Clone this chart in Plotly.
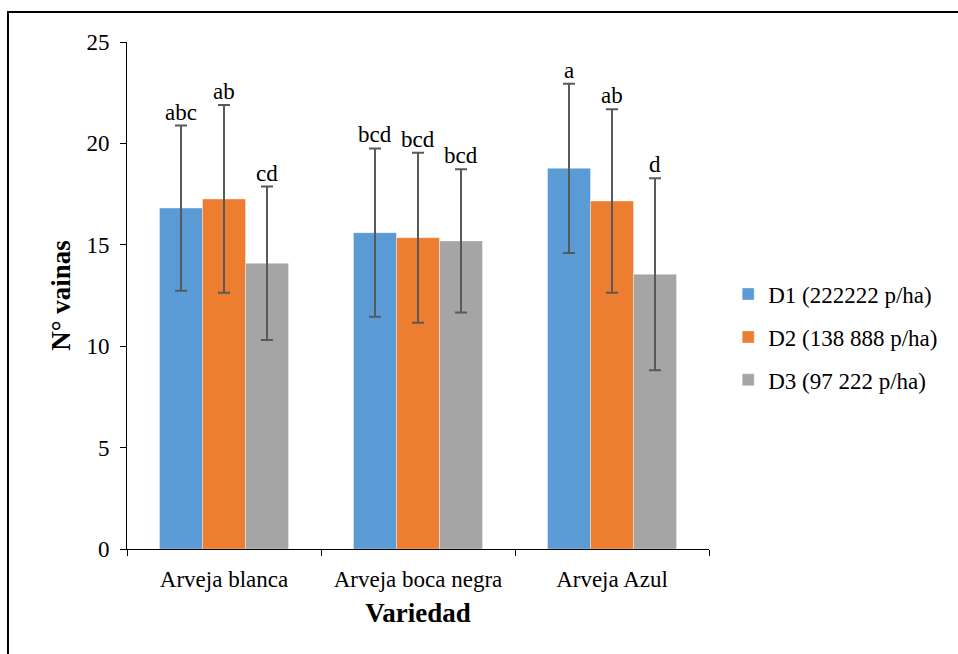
import plotly.graph_objects as go

categories = ["Arveja blanca", "Arveja boca negra", "Arveja Azul"]
series_names = ["D1 (222222 p/ha)", "D2 (138 888 p/ha)", "D3 (97 222 p/ha)"]
d1 = [16.81, 15.60, 18.77]
d2 = [17.26, 15.35, 17.16]
d3 = [14.09, 15.19, 13.55]
d1_err = [4.07, 4.15, 4.17]
d2_err = [4.63, 4.19, 4.52]
d3_err = [3.78, 3.53, 4.73]
d1_lab = ["abc", "bcd", "a"]
d2_lab = ["ab", "bcd", "ab"]
d3_lab = ["cd", "bcd", "d"]
y_ticks = [0, 5, 10, 15, 20, 25]

colors = ["#5B9BD5", "#ED7D31", "#A5A5A5"]
FONT = "'Times New Roman', 'Liberation Serif', serif"

fig = go.Figure()
series = [(d1, d1_err, d1_lab), (d2, d2_err, d2_lab), (d3, d3_err, d3_lab)]
bargap = 0.335
bw = (1 - bargap) / 3
for i, ((vals, errs, labs), name, col) in enumerate(zip(series, series_names, colors)):
    fig.add_trace(go.Bar(
        x=categories, y=vals, name=name, marker_color=col,
        marker_line=dict(width=0.6, color="rgba(255,255,255,0.6)"),
        error_y=dict(type="data", array=errs, visible=True, color="#595959",
                     thickness=2, width=6),
        legendgroup=f"g{i}",
    ))
    for j, (v, e, lab) in enumerate(zip(vals, errs, labs)):
        fig.add_annotation(x=j + (i - 1) * bw, y=v + e, xref="x", yref="y",
                           text=lab, showarrow=False, yanchor="bottom", yshift=-1,
                           font=dict(family=FONT, size=23, color="#000"))

fig.add_shape(type="rect", xref="paper", yref="paper", x0=-0.2045, x1=1.6,
              y0=-0.4, y1=1.059, line=dict(color="#000", width=2), fillcolor="rgba(0,0,0,0)")

fig.update_layout(
    width=958, height=654,
    margin=dict(l=127, r=249, t=42, b=105),
    paper_bgcolor="white", plot_bgcolor="white",
    barmode="group", bargap=bargap, bargroupgap=0,
    font=dict(family=FONT, size=23, color="#000"),
    showlegend=True,
    legend=dict(x=1.033, y=0.418, xanchor="left", yanchor="middle",
                font=dict(family=FONT, size=23, color="#000"),
                tracegroupgap=10, itemwidth=30),
    xaxis=dict(showline=True, linecolor="#000", linewidth=1,
               ticks="outside", ticklen=6, tickcolor="#000", tickson="boundaries",
               tickfont=dict(family=FONT, size=23), ticklabelstandoff=9,
               title=dict(text="<b>Variedad</b>", font=dict(family=FONT, size=27), standoff=12)),
    yaxis=dict(range=[0, 25], tickvals=y_ticks, showline=True, linecolor="#000", linewidth=1,
               ticks="outside", ticklen=6, tickcolor="#000", showgrid=False, zeroline=False,
               tickfont=dict(family=FONT, size=23), ticklabelstandoff=6,
               title=dict(text="<b>N° vainas</b>", font=dict(family=FONT, size=27), standoff=7)),
)

fig.write_html("out.html")
